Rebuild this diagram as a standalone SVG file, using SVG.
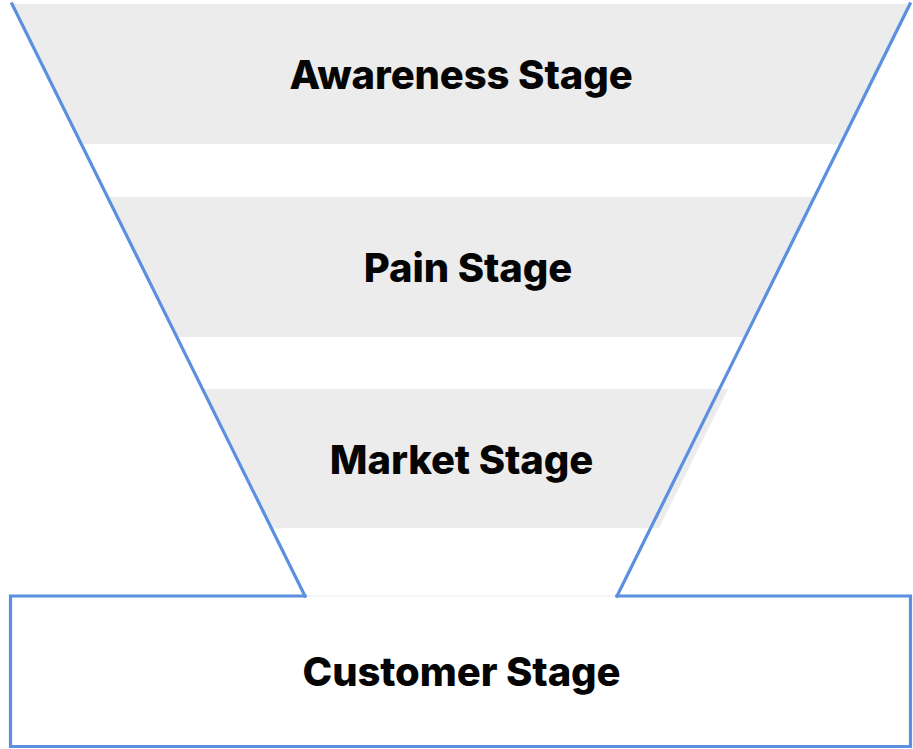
<svg xmlns="http://www.w3.org/2000/svg" width="913" height="749" viewBox="0 0 913 749">
  <style>
    .band { fill: #ececec; }
    .edge { fill: none; stroke: #5b8fe0; stroke-width: 3.2; stroke-linecap: square; }
    .label { font-family: Inter, "Liberation Sans", sans-serif; font-weight: 800; font-size: 40px; letter-spacing: -0.1px; fill: #050505; text-anchor: middle; }
  </style>
  <rect width="913" height="749" fill="#ffffff"/>

  <!-- funnel stages -->
  <g id="awareness">
    <polygon class="band" points="12,4 910,4 840.7,144 81.3,144"/>
    <text class="label" x="461" y="89">Awareness Stage</text>
  </g>
  <g id="pain">
    <polygon class="band" points="107.5,197 814.5,197 745.2,337 176.8,337"/>
    <text class="label" x="468" y="282">Pain Stage</text>
  </g>
  <g id="market">
    <polygon class="band" points="202.5,389 728,389 659,528 271.3,528"/>
    <text class="label" x="461.5" y="474">Market Stage</text>
  </g>
  <g id="customer">
    <rect x="10.5" y="596" width="900" height="150.5" fill="#ffffff" stroke="none"/>
    <line x1="305" y1="596" x2="617" y2="596" stroke="#f0f0f8" stroke-width="1.5"/>
    <path class="edge" d="M305,596 H10.5 V746.5 H910.5 V596 H617"/>
    <text class="label" x="461.5" y="686">Customer Stage</text>
  </g>

  <!-- funnel sides -->
  <g id="connectors">
    <line class="edge" x1="12" y1="4" x2="305" y2="596"/>
    <line class="edge" x1="910" y1="4" x2="617" y2="596"/>
  </g>
</svg>
